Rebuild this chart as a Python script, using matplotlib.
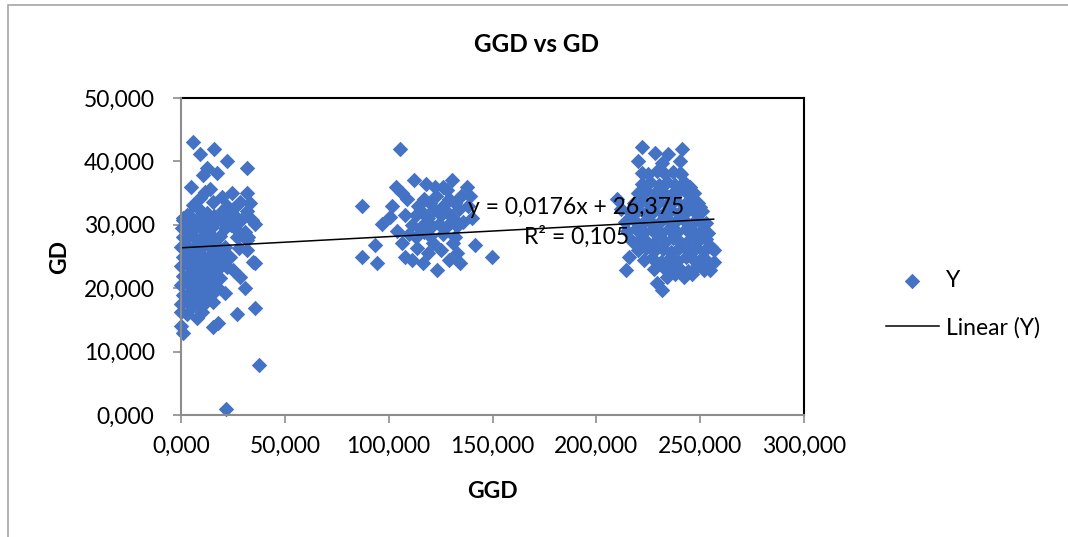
import numpy as np
import matplotlib
matplotlib.use("Agg")
import matplotlib.pyplot as plt
from matplotlib.patches import Rectangle
from matplotlib.ticker import FuncFormatter, MultipleLocator

# GGD (x) / GD (y) readings, three groups
low_group = [
    (6, 43), (16, 42), (9, 41.2), (22.3, 40.1), (31.6, 38.9), (12.4, 38.9), (17.2, 38.1),
    (10.7, 37.8), (4.7, 35.9), (24.4, 35), (32, 35), (33.2, 33.4), (28.4, 33.6), (11.6, 35.2),
    (14, 35.7), (9.2, 34.2), (5.9, 33.1), (15.6, 33.6), (19.6, 34.4), (31.6, 32.1), (34, 30.8),
    (30.8, 28.9), (31.6, 27.6), (2.7, 31.5), (1.1, 30.8), (20.4, 32.3), (22.8, 31), (26.8, 31),
    (12.4, 31.8), (17.2, 30.8), (9.2, 32.3), (22, 33), (25, 32.5), (29, 30.7), (32.4, 28.1),
    (35.6, 30.2), (27, 28), (21, 26.5), (23.6, 25), (31.6, 26), (25.2, 22.9), (28.4, 21.8),
    (21.2, 19.2), (30.8, 20), (34.8, 24.2), (35.6, 23.9), (20, 24),
    (1, 31), (4, 31.5), (7, 30.8), (10, 31.2), (13, 30.6), (16, 31.4), (19, 30.9),
    (0.5, 29.5), (3, 29.8), (6, 29.2), (9, 29.6), (12, 29.3), (15, 29.7), (21, 29.5),
    (24, 30), (27, 29.2), (1, 28), (4, 28.3), (7, 27.8), (10, 28.1), (13, 28.4), (16, 27.9),
    (19, 28.2), (0, 26.5), (2.5, 26.8), (5.5, 26.2), (8.5, 26.6), (11.5, 26.9), (14.5, 26.3),
    (17.5, 26.7), (20.5, 25.5), (28, 26.4), (1, 25), (4, 25.3), (7, 24.8), (10, 25.2),
    (13, 24.7), (16, 25.4), (19, 24.9), (0, 23.5), (3, 23.8), (6, 23.2), (9, 23.6),
    (12, 23.3), (15, 23.9), (18, 23.1), (22, 23.4), (1, 22), (4, 22.3), (7, 21.7),
    (10, 22.2), (13, 21.8), (16, 22.4), (19, 21.6), (0, 20.5), (3, 20.8), (6, 20.2),
    (9, 20.6), (12, 20.3), (15, 20.9), (18, 20.1), (1, 19), (4, 19.3), (7, 18.7),
    (10, 19.2), (13, 18.6), (16, 19.4), (0, 17.5), (3, 17.8), (6, 17.2), (9, 17.6),
    (12, 17.9), (15.5, 17.9), (0, 16.3), (3, 16), (7.6, 15.3), (10, 16.3), (26.8, 16),
    (35.6, 16.8), (18, 14.5), (15.6, 13.9), (1.1, 12.9), (0, 14), (37.7, 7.9), (21.7, 0.9),
]

mid_group = [
    (105.5, 41.9), (87, 33), (87, 25), (94.3, 23.9), (103.6, 36), (112.4, 37), (122.4, 36),
    (130.4, 37.1), (137.6, 36), (149.7, 25), (141.6, 26.8), (134.4, 23.9), (123.2, 22.9),
    (116.7, 23.9), (107.9, 25), (93.5, 26.8), (96.7, 30.2), (100.7, 31.3), (101.5, 33),
    (106.3, 35), (121.4, 27.1), (131, 27.1), (113.5, 26.3), (106.3, 27.1), (109, 34),
    (118, 36.5), (126, 36), (128, 35.5), (139, 34.5), (104, 29), (108, 31.5), (119, 25.5),
    (125, 26), (133, 25.5), (129, 24.5), (111, 24.5), (140, 31),
    (114, 33), (117, 34), (120, 33.5), (123, 34.5), (126, 33), (129, 34), (132, 33.5),
    (135, 34.5), (113, 31.5), (116, 32), (119, 31), (122, 32.5), (125, 31.5), (128, 32),
    (131, 31), (134, 32.5), (111, 30), (115, 29.5), (118, 30.5), (121, 29.8), (124, 30.2),
    (127, 29.5), (130, 30.5), (133, 29.8), (110, 28.5), (113, 28), (117, 28.8), (120, 28.2),
    (126, 28.5), (132, 28), (136, 30.5), (138, 33),
]

high_group = [
    (221.9, 42.3), (241.2, 42), (220.3, 40), (228.3, 41.3), (234.7, 41.2), (240.4, 40),
    (231.5, 39.7), (221.9, 38.1), (215.5, 25), (214.5, 22.9), (229, 20.8), (231.5, 19.7),
    (256.5, 26), (256.5, 24.2), (254.8, 22.9), (210, 34), (212, 32.5), (250, 32.8),
    (245, 35.5), (240.4, 38.2),
    (225, 38), (229, 38.5), (233, 38), (237, 38.4), (241, 38),
    (222, 36.5), (226, 36.8), (230, 36.2), (234, 36.7), (238, 36.3), (242, 36.8), (245, 36),
    (220, 35), (224, 35.3), (228, 34.8), (232, 35.2), (236, 34.7), (240, 35.3), (244, 34.8),
    (247, 35), (218, 33.5), (222, 33.8), (226, 33.2), (230, 33.6), (234, 33.3), (238, 33.9),
    (242, 33.2), (246, 33.7), (249, 33.4), (216, 32), (220, 32.3), (224, 31.8), (228, 32.2),
    (232, 31.7), (236, 32.4), (240, 31.9), (244, 32.3), (248, 31.8), (251, 32.2),
    (214, 30.5), (218, 30.8), (222, 30.2), (226, 30.6), (230, 30.3), (234, 30.9), (238, 30.4),
    (242, 30.7), (246, 30.2), (250, 30.6), (253, 30.3), (215, 29), (219, 29.3), (223, 28.8),
    (227, 29.2), (231, 28.7), (235, 29.4), (239, 28.9), (243, 29.3), (247, 28.8), (251, 29.2),
    (254, 28.7), (217, 27.5), (221, 27.8), (225, 27.2), (229, 27.6), (233, 27.3), (237, 27.9),
    (241, 27.2), (245, 27.7), (249, 27.4), (253, 27.8), (220, 26), (224, 26.3), (228, 25.8),
    (232, 26.2), (236, 25.7), (240, 26.4), (244, 25.9), (248, 26.3), (252, 25.8), (255, 26.5),
    (223, 24.5), (227, 24.8), (231, 24.2), (235, 24.6), (239, 24.3), (243, 24.9), (247, 24.4),
    (251, 24.7), (254, 24.2), (228, 23), (232, 23.3), (236, 22.8), (240, 23.2), (244, 22.7),
    (248, 23.3), (252, 22.9), (234, 21.8), (238, 22.2), (242, 21.7), (246, 22.3),
]

# Excel trendline as printed on the chart
trend_slope = 0.0176
trend_intercept = 26.375
trend_r2 = 0.105

pts = np.array(low_group + mid_group + high_group)
ggd = pts[:, 0]
gd = pts[:, 1]

blue = "#4472C4"
plt.rcParams["font.family"] = ["Lato", "DejaVu Sans"]
fs = 16.5


def comma_fmt(v, pos=None):
    return f"{v:.3f}".replace(".", ",")


fig = plt.figure(figsize=(10.68, 5.37), dpi=100)
ax = fig.add_axes([181 / 1068, 1 - 415 / 537, 623 / 1068, 317 / 537])

ax.scatter(ggd, gd, marker="D", s=62, color=blue, linewidths=0, clip_on=False,
           zorder=3, label="Y")
xs = np.array([ggd.min(), ggd.max()])
ax.plot(xs, trend_slope * xs + trend_intercept, color="black", lw=1.1, zorder=4,
        label="Linear (Y)")

ax.set_xlim(0, 300)
ax.set_ylim(0, 50)
ax.xaxis.set_major_locator(MultipleLocator(50))
ax.yaxis.set_major_locator(MultipleLocator(10))
ax.xaxis.set_major_formatter(FuncFormatter(comma_fmt))
ax.yaxis.set_major_formatter(FuncFormatter(comma_fmt))
ax.tick_params(axis="both", direction="out", length=6, width=1.2, color="#8c8c8c",
               labelsize=fs)
ax.tick_params(axis="y", pad=13)
ax.tick_params(axis="x", pad=9)

for side in ["left", "bottom"]:
    ax.spines[side].set_color("#8c8c8c")
    ax.spines[side].set_linewidth(1.5)
    ax.spines[side].set_zorder(5)
for side in ["top", "right"]:
    ax.spines[side].set_color("black")
    ax.spines[side].set_linewidth(1.5)

ax.set_xlabel("GGD", fontsize=fs, fontweight="bold")
ax.xaxis.set_label_coords(0.5, (415 - 492) / 317)
ax.xaxis.label.set_verticalalignment("center")
ax.set_ylabel("GD", fontsize=fs, fontweight="bold")
ax.yaxis.set_label_coords((60 - 181) / 623, 0.5)
ax.yaxis.label.set_verticalalignment("center")

eq = f"y = {trend_slope:.4f}x + {trend_intercept:.3f}".replace(".", ",")
r2 = f"R² = {trend_r2:.3f}".replace(".", ",")
ax.text(190.3, 32.8, eq, fontsize=fs, ha="center", va="center", zorder=6)
ax.text(190.3, 28.1, r2, fontsize=fs, ha="center", va="center", zorder=6)

fig.text(537 / 1068, 1 - 45 / 537, "GGD vs GD", fontsize=17.5, fontweight="bold",
         ha="center", va="center")

handles, labels = ax.get_legend_handles_labels()
leg = fig.legend(handles, labels, loc="center left",
                 bbox_to_anchor=(886 / 1068, 1 - 304 / 537), frameon=False,
                 fontsize=fs, handlelength=2.3, handletextpad=0.3, labelspacing=1.15,
                 borderpad=0, borderaxespad=0, markerscale=1.0)

# outer chart-area border (cut off on the right and bottom)
fig.add_artist(Rectangle((8 / 1068, -0.05), 1.1, 1.05 - 5 / 537,
                         transform=fig.transFigure, fill=False, edgecolor="#a6a6a6",
                         lw=1.2, clip_on=False))

fig.savefig("out.png", dpi=100)
